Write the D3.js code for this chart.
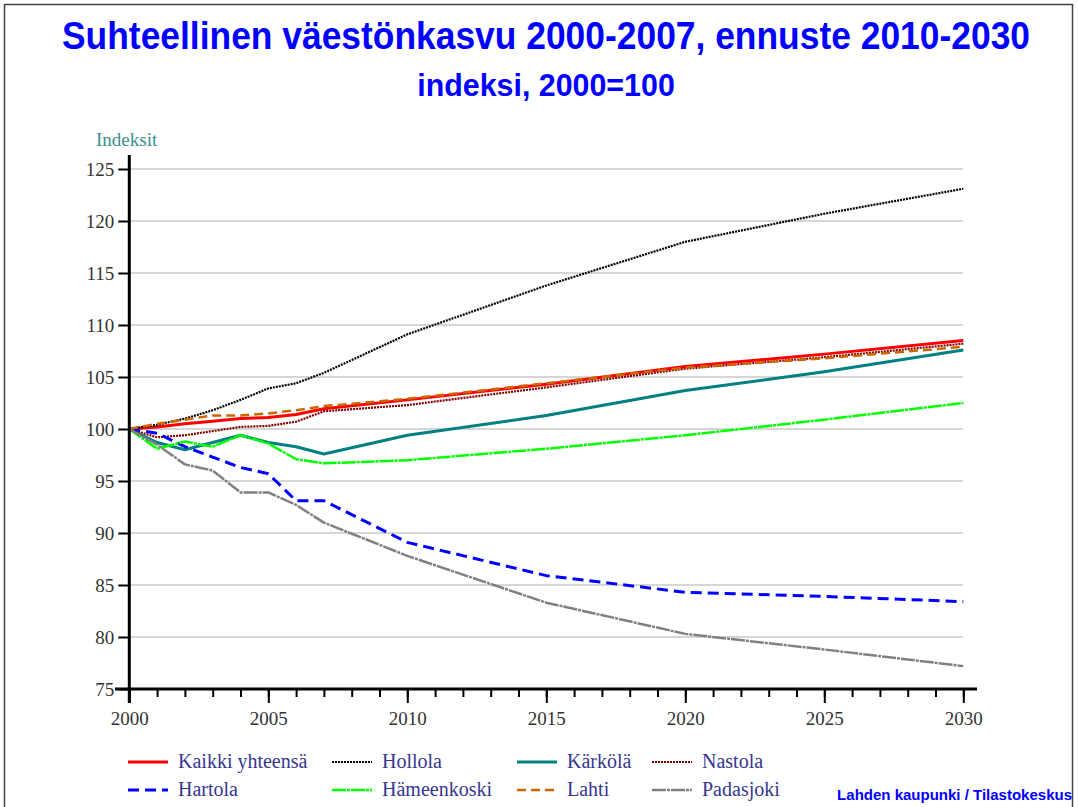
<!DOCTYPE html>
<html>
<head>
<meta charset="utf-8">
<script src="https://cdn.jsdelivr.net/npm/d3@7"></script>
<style>
  body { margin: 0; background: #fff; }
  svg { display: block; }
</style>
</head>
<body>
<div id="body"></div>
<script>
// years with data: actual 2000-2007, forecast 2010-2030
var years = [2000, 2001, 2002, 2003, 2004, 2005, 2006, 2007, 2010, 2015, 2020, 2025, 2030];

var kaikki      = [100, 100.2, 100.5, 100.75, 101.0, 101.1, 101.4, 101.95, 102.8, 104.3, 106.0, 107.2, 108.5];
var hollola     = [100, 100.4, 101.0, 101.8, 102.8, 103.9, 104.4, 105.4, 109.1, 113.8, 118.0, 120.7, 123.1];
var karkola     = [100, 98.7, 98.0, 98.7, 99.4, 98.7, 98.3, 97.6, 99.4, 101.3, 103.7, 105.5, 107.6];
var nastola     = [100, 99.2, 99.4, 99.8, 100.2, 100.3, 100.7, 101.7, 102.3, 104.0, 105.8, 106.9, 108.2];
var hartola     = [100, 99.6, 98.3, 97.3, 96.3, 95.7, 93.1, 93.1, 89.1, 85.9, 84.3, 83.9, 83.4];
var hameenkoski = [100, 98.1, 98.8, 98.3, 99.4, 98.6, 97.1, 96.7, 97.0, 98.1, 99.4, 100.9, 102.5];
var lahti       = [100, 100.5, 100.9, 101.3, 101.3, 101.5, 101.8, 102.2, 102.9, 104.4, 105.9, 106.8, 107.9];
var padasjoki   = [100, 98.5, 96.6, 96.0, 93.9, 93.9, 92.7, 91.0, 87.8, 83.3, 80.3, 78.8, 77.2];

var seriesNames = ["Kaikki yhteensä", "Hollola", "Kärkölä", "Nastola", "Hartola", "Hämeenkoski", "Lahti", "Padasjoki"];
var yTicks = [75, 80, 85, 90, 95, 100, 105, 110, 115, 120, 125];

var width = 1078, height = 807;

// line styles per series (legend order)
var styles = [
  {color: "#ff0000", w: 3,   dash: null},
  {color: "#000000", w: 2.2, dash: "2,1"},
  {color: "#008080", w: 3,   dash: null},
  {color: "#800000", w: 2.2, dash: "2,1"},
  {color: "#0000ff", w: 3,   dash: "11,6"},
  {color: "#00ff00", w: 2.5, dash: "14,1,3,1"},
  {color: "#cc6600", w: 2.5, dash: "9,5"},
  {color: "#808080", w: 2.5, dash: "14,1,3,1"}
];

var allSeries = [kaikki, hollola, karkola, nastola, hartola, hameenkoski, lahti, padasjoki];

var data = seriesNames.map(function(name, i) {
  return {
    name: name,
    style: styles[i],
    values: years.map(function(yr, j) { return {year: yr, value: allSeries[i][j]}; })
  };
});

var x = d3.scaleLinear().domain([2000, 2030]).range([129.3, 963.3]);
var y = d3.scaleLinear().domain([75, 125]).range([689, 169]);

var svg = d3.select("#body").append("svg")
  .attr("width", width)
  .attr("height", height);

svg.append("rect")
  .attr("width", width).attr("height", height)
  .attr("fill", "#fff");

// frame
svg.append("rect")
  .attr("x", 4.5).attr("y", 4.5)
  .attr("width", 1068).attr("height", 820)
  .attr("fill", "none")
  .attr("stroke", "#444")
  .attr("stroke-width", 1.5);

// titles (narrow bold face, squeezed horizontally)
svg.append("text")
  .attr("transform", "translate(546,49) scale(0.8,1)")
  .attr("text-anchor", "middle")
  .attr("textLength", 1210).attr("lengthAdjust", "spacingAndGlyphs")
  .style("font-family", "Liberation Sans, Arial, sans-serif")
  .style("font-weight", "bold").style("font-size", "38px")
  .attr("fill", "#0000ff")
  .text("Suhteellinen väestönkasvu 2000-2007, ennuste 2010-2030");

svg.append("text")
  .attr("transform", "translate(546,96) scale(0.85,1)")
  .attr("text-anchor", "middle")
  .attr("textLength", 303).attr("lengthAdjust", "spacingAndGlyphs")
  .style("font-family", "Liberation Sans, Arial, sans-serif")
  .style("font-weight", "bold").style("font-size", "31px")
  .attr("fill", "#0000ff")
  .text("indeksi, 2000=100");

// gridlines
svg.append("g").selectAll("line")
  .data(yTicks.filter(function(d) { return d > 75; }))
  .enter().append("line")
  .attr("x1", x(2000)).attr("x2", x(2030))
  .attr("y1", function(d) { return y(d); })
  .attr("y2", function(d) { return y(d); })
  .attr("stroke", "#c8c8c8")
  .attr("stroke-width", 1.5);

// series lines
var line = d3.line()
  .x(function(d) { return x(d.year); })
  .y(function(d) { return y(d.value); });

svg.append("g").selectAll("path")
  .data(data)
  .enter().append("path")
  .attr("d", function(d) { return line(d.values); })
  .attr("fill", "none")
  .attr("stroke", function(d) { return d.style.color; })
  .attr("stroke-width", function(d) { return d.style.w; })
  .attr("stroke-dasharray", function(d) { return d.style.dash; })
  .attr("stroke-linejoin", "round");

// axes
var serif = "Liberation Serif, Times New Roman, serif";

var yAxis = d3.axisLeft(y).tickValues(yTicks).tickSize(11).tickPadding(4).tickSizeOuter(0);
var gy = svg.append("g")
  .attr("transform", "translate(" + x(2000) + ",0)")
  .call(yAxis);
gy.select(".domain").remove();
gy.selectAll(".tick line").attr("stroke", "#000").attr("stroke-width", 2);
gy.selectAll(".tick text")
  .style("font-family", serif).style("font-size", "19px").attr("fill", "#333");

var xMinor = d3.axisBottom(x).tickValues(d3.range(2000, 2031)).tickSize(8).tickFormat("").tickSizeOuter(0);
var gxm = svg.append("g")
  .attr("transform", "translate(0," + y(75) + ")")
  .call(xMinor);
gxm.select(".domain").remove();
gxm.selectAll(".tick line").attr("stroke", "#000").attr("stroke-width", 2);

var xAxis = d3.axisBottom(x).tickValues([2000, 2005, 2010, 2015, 2020, 2025, 2030])
  .tickSize(14).tickPadding(9).tickFormat(d3.format("d")).tickSizeOuter(0);
var gx = svg.append("g")
  .attr("transform", "translate(0," + y(75) + ")")
  .call(xAxis);
gx.select(".domain").remove();
gx.selectAll(".tick line").attr("stroke", "#000").attr("stroke-width", 2);
gx.selectAll(".tick text")
  .style("font-family", serif).style("font-size", "19px").attr("fill", "#333");

// axis lines
svg.append("line")
  .attr("x1", x(2000)).attr("x2", x(2000))
  .attr("y1", 155).attr("y2", y(75) + 14)
  .attr("stroke", "#000").attr("stroke-width", 3);
svg.append("line")
  .attr("x1", 115).attr("x2", 977)
  .attr("y1", y(75)).attr("y2", y(75))
  .attr("stroke", "#000").attr("stroke-width", 3);

svg.append("text")
  .attr("x", 96).attr("y", 146)
  .style("font-family", serif).style("font-size", "19px")
  .attr("fill", "#3a8f8f")
  .text("Indeksit");

// legend, 4 columns x 2 rows
var legendX = [128, 332, 517, 652];
var legendY = [762, 790];

var legend = svg.append("g").selectAll("g")
  .data(data)
  .enter().append("g")
  .attr("transform", function(d, i) {
    return "translate(" + legendX[i % 4] + "," + legendY[Math.floor(i / 4)] + ")";
  });

legend.append("line")
  .attr("x1", 0).attr("x2", 40)
  .attr("stroke", function(d) { return d.style.color; })
  .attr("stroke-width", function(d) { return d.style.w; })
  .attr("stroke-dasharray", function(d) { return d.style.dash; });

legend.append("text")
  .attr("x", 50).attr("y", 6)
  .style("font-family", serif).style("font-size", "20px")
  .attr("fill", "#363690")
  .text(function(d) { return d.name; });

svg.append("text")
  .attr("transform", "translate(1072,800) scale(0.9,1)")
  .attr("text-anchor", "end")
  .attr("textLength", 261).attr("lengthAdjust", "spacingAndGlyphs")
  .style("font-family", "Liberation Sans, Arial, sans-serif")
  .style("font-weight", "bold").style("font-size", "14px")
  .attr("fill", "#0000ff")
  .text("Lahden kaupunki / Tilastokeskus");
</script>
</body>
</html>
